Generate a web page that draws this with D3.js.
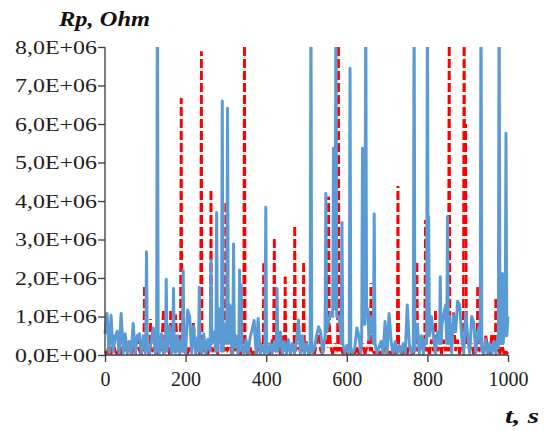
<!DOCTYPE html>
<html>
<head>
<meta charset="utf-8">
<script src="https://cdn.jsdelivr.net/npm/d3@7"></script>
<style>
  body { margin: 0; background: #fff; }
  #chart { width: 544px; height: 431px; }
  .axis path, .axis line { stroke: #3a3a3a; stroke-width: 1.3px; }
  .axis text { font-family: "Liberation Serif", "Times New Roman", serif; fill: #222; }
  .title { font-family: "Liberation Serif", "Times New Roman", serif; font-weight: bold; font-style: italic; fill: #111; }
</style>
</head>
<body>
<div id="chart"></div>
<script>
// [t in s, Rp in MOhm], blue solid series
var blueSeries = [
  [0,0.55],[5,1.08],[10,0.05],[15,1.03],[20,0.08],[25,0.45],[30,0.62],[35,0.04],[40,1.08],[45,0.06],
  [50,0.55],[55,0.04],[60,0.35],[65,0.06],[70,0.82],[75,0.05],[80,0.5],[85,0.55],[90,0.04],[95,0.5],
  [100,0.06],[101,0.1],[103,2.68],[105,0.1],[110,0.05],[115,0.4],[120,0.7],[125,0.04],[128,0.1],[130,9.5],
  [132,0.1],[135,0.06],[140,0.55],[145,0.05],[150,0.1],[152,1.97],[154,0.1],[160,0.75],[165,0.05],[168,0.1],
  [170,1.73],[172,0.1],[175,0.06],[180,0.5],[185,0.04],[190,0.4],[192,0.1],[194,2.2],[196,0.1],[200,0.05],
  [205,1.17],[210,1.0],[215,0.06],[220,0.75],[225,0.04],[230,0.45],[232,0.1],[234,1.76],[236,0.1],[240,0.05],
  [245,0.55],[250,0.04],[255,0.4],[261,0.1],[263,2.47],[265,0.3],[270,0.6],[275,0.1],[277,3.7],[279,0.1],
  [285,1.2],[289,0.1],[291,6.6],[293,0.1],[298,0.8],[302,0.3],[304,6.41],[306,0.3],[310,1.3],[315,0.06],
  [317,0.2],[319,2.88],[321,0.2],[325,0.5],[330,0.05],[332,0.1],[334,2.21],[336,0.3],[338,1.82],[340,0.1],
  [345,0.06],[350,0.4],[355,0.04],[360,0.45],[365,0.65],[370,0.9],[375,0.05],[380,0.95],[385,0.04],[390,0.25],
  [395,0.05],[397,0.1],[399,3.84],[401,0.1],[405,0.04],[410,0.3],[415,0.05],[420,0.35],[425,0.1],[427,1.73],
  [429,0.1],[435,0.6],[440,0.04],[445,0.35],[450,0.04],[455,0.4],[460,0.05],[465,0.3],[470,0.04],[475,0.35],
  [480,0.91],[485,0.05],[490,0.5],[495,0.04],[500,0.3],[505,0.04],[509,0.1],[511,9.5],[513,0.1],[515,0.06],
  [520,0.2],[525,0.5],[530,0.73],[535,0.6],[540,0.05],[546,0.5],[548,4.2],[550,0.6],[555,0.9],[560,1.1],
  [565,1.0],[567,5.37],[569,1.2],[571,1.4],[573,9.5],[575,1.0],[580,1.0],[585,0.6],[586,0.3],[588,3.44],
  [590,0.3],[595,0.06],[600,0.25],[605,0.05],[606,0.1],[608,7.45],[610,0.1],[615,0.06],[620,0.2],[625,0.7],
  [630,0.5],[635,0.05],[637,0.5],[639,5.37],[641,0.8],[645,0.8],[647,9.5],[649,1.0],[652,1.2],[655,0.4],
  [660,1.0],[665,0.5],[666,0.3],[668,3.66],[670,0.3],[675,0.05],[680,0.2],[685,0.35],[690,0.04],[695,0.87],
  [700,0.05],[705,1.08],[710,0.35],[715,0.04],[720,0.35],[725,0.05],[730,0.25],[735,0.04],[740,0.3],[745,0.05],
  [750,1.3],[755,0.3],[760,0.04],[765,0.1],[767,9.5],[769,0.1],[770,0.4],[775,0.8],[780,0.05],[785,0.5],
  [790,0.04],[795,0.4],[798,0.3],[800,9.5],[802,0.5],[803,3.6],[805,0.5],[810,1.0],[815,0.5],[820,0.05],
  [825,0.6],[830,0.3],[832,2.03],[834,0.3],[836,0.8],[840,1.0],[845,1.3],[848,0.3],[850,3.6],[852,0.3],
  [855,1.0],[860,0.06],[865,1.04],[870,0.6],[875,1.4],[880,1.3],[885,0.5],[890,0.05],[895,1.1],[900,0.5],
  [905,0.05],[910,1.0],[915,0.85],[920,0.06],[925,0.6],[930,0.78],[931,0.3],[933,9.5],[935,0.1],[940,0.05],
  [945,0.4],[950,0.04],[955,0.3],[960,0.05],[965,0.35],[970,0.04],[975,0.5],[976,0.2],[978,9.5],[980,0.3],
  [984,0.3],[986,2.12],[988,0.3],[990,0.6],[993,0.5],[995,5.76],[997,0.5],[1000,1.0]
];

// [t in s, Rp in MOhm], red dashed series
var redSeries = [
  [0,0.1],[5,0.02],[10,0.3],[15,0.02],[20,0.52],[25,0.1],[30,0.02],[35,0.2],[40,0.02],[45,0.6],
  [50,0.1],[55,0.3],[60,0.35],[65,0.02],[70,0.2],[75,0.02],[80,0.4],[85,0.1],[90,0.02],[95,0.3],
  [96,0.1],[98,1.77],[100,0.1],[105,0.1],[110,0.02],[113,0.93],[115,0.1],[120,0.1],[125,0.3],[130,0.02],
  [135,0.4],[140,0.1],[145,1.19],[150,0.1],[155,0.3],[160,0.02],[163,1.15],[165,0.1],[170,0.1],[175,1.05],
  [180,0.2],[185,0.02],[187,0.1],[189,6.67],[191,0.1],[195,0.1],[200,0.3],[205,0.02],[210,0.2],[215,0.1],
  [219,0.9],[225,0.1],[230,0.3],[235,0.02],[237,0.1],[239,7.88],[241,0.1],[245,0.1],[250,0.3],[255,0.02],
  [260,0.2],[261,0.1],[263,4.29],[265,0.1],[270,0.1],[275,0.3],[280,0.02],[285,0.9],[290,0.1],[295,0.2],
  [298,0.1],[300,3.94],[302,0.1],[305,0.1],[310,0.4],[315,0.02],[320,0.2],[325,0.1],[330,0.3],[335,0.02],
  [340,0.1],[344,0.1],[346,9.5],[348,0.1],[350,0.1],[355,0.02],[360,0.2],[365,0.02],[370,0.1],[375,0.02],
  [380,0.2],[385,0.1],[390,0.3],[392,0.1],[394,2.38],[396,0.1],[400,0.1],[405,0.3],[410,0.02],[415,0.4],
  [418,0.1],[420,3.09],[422,0.1],[425,0.1],[430,0.3],[435,0.02],[440,0.5],[445,0.1],[447,2.03],[449,0.1],
  [455,0.4],[460,0.02],[465,0.3],[469,0.1],[471,3.38],[473,0.1],[480,0.3],[485,0.02],[490,0.2],[491,0.1],
  [493,2.47],[495,0.1],[500,0.35],[505,0.02],[510,0.1],[515,0.2],[520,0.02],[525,0.3],[530,0.6],[535,0.1],
  [540,0.02],[545,0.3],[550,0.4],[553,0.2],[555,4.11],[557,0.8],[560,0.2],[565,0.02],[570,0.3],[575,0.1],
  [577,0.1],[579,9.5],[581,0.1],[585,0.3],[590,0.02],[595,0.1],[600,0.02],[605,0.2],[610,0.02],[615,0.1],
  [620,0.02],[625,0.2],[630,0.02],[635,0.1],[640,0.3],[645,0.02],[650,0.2],[655,0.4],[658,0.1],[660,1.86],
  [662,0.1],[665,0.1],[670,0.02],[675,0.2],[680,0.02],[685,0.1],[690,0.02],[695,0.4],[700,0.02],[705,0.1],
  [710,0.02],[715,0.2],[720,0.02],[725,0.1],[727,4.39],[729,0.1],[735,0.1],[740,0.02],[745,0.2],[750,0.02],
  [755,0.3],[760,0.1],[765,0.02],[770,0.2],[772,0.1],[774,2.47],[776,0.1],[780,0.1],[785,0.4],[790,0.1],
  [793,0.1],[795,3.5],[797,0.1],[800,0.2],[805,0.02],[810,0.4],[815,0.1],[818,0.1],[820,1.17],[822,0.1],
  [825,0.1],[830,0.3],[835,0.02],[840,0.4],[845,0.1],[850,0.3],[852,0.1],[854,9.5],[856,0.1],[860,0.2],
  [865,1.1],[870,0.1],[875,0.4],[880,0.02],[885,0.3],[889,0.1],[891,9.5],[893,3.0],[895,6.0],[897,0.2],
  [900,0.4],[905,0.1],[910,0.3],[915,0.02],[920,0.4],[923,0.1],[925,1.82],[927,0.1],[930,0.1],[935,0.3],
  [940,0.02],[945,0.5],[950,0.2],[955,0.02],[960,0.6],[965,0.3],[968,0.1],[970,1.47],[972,0.1],[975,0.2],
  [980,0.02],[985,0.3],[990,0.02],[995,0.1],[1000,0.02]
];

var xTicks = [0, 200, 400, 600, 800, 1000];
var yTicks = [0, 1e6, 2e6, 3e6, 4e6, 5e6, 6e6, 7e6, 8e6];

var chart = d3.select("#chart"),
    margin = {top: 47, right: 36, bottom: 76, left: 105},
    width = 544 - margin.left - margin.right,
    height = 431 - margin.top - margin.bottom;

var x = d3.scaleLinear().domain([0, 1000]).range([0, width]),
    y = d3.scaleLinear().domain([0, 8e6]).range([height, 0]);

var svg = chart.append("svg")
    .attr("width", 544)
    .attr("height", 431)
    .append("g")
    .attr("transform", "translate(" + margin.left + "," + margin.top + ")");

svg.append("clipPath")
    .attr("id", "plot-clip")
    .append("rect")
    .attr("x", -2)
    .attr("y", 0)
    .attr("width", width + 4)
    .attr("height", height + 1);

// values are in MOhm, axis is in Ohm
var line = d3.line()
    .x(function (d) { return x(d[0]); })
    .y(function (d) { return y(d[1] * 1e6); });

var lines = svg.append("g").attr("clip-path", "url(#plot-clip)");

// red series drawn segment by segment, each from its upper end, with the
// dash phase tied to the pixel height so up and down strokes of a spike
// share the same gaps (as in the original, where the spikes read as dashed)
lines.append("g")
    .selectAll("path")
    .data(d3.pairs(redSeries))
    .enter().append("path")
    .attr("d", function (p) {
        var a = p[0], b = p[1];
        if (a[1] < b[1]) { var tmp = a; a = b; b = tmp; }
        return line([a, b]);
    })
    .attr("fill", "none")
    .attr("stroke", "#ff0000")
    .attr("stroke-width", 2.6)
    .attr("stroke-dasharray", "9,3")
    .attr("stroke-dashoffset", function (p) {
        return y(Math.max(p[0][1], p[1][1]) * 1e6);
    });

lines.append("path")
    .datum(blueSeries)
    .attr("d", line)
    .attr("fill", "none")
    .attr("stroke", "#5b9bd5")
    .attr("stroke-width", 3)
    .attr("stroke-linejoin", "round");

// axes
var yAxis = svg.append("g")
    .attr("class", "axis")
    .call(d3.axisLeft(y).tickValues(yTicks).tickSize(7).tickSizeOuter(0)
        .tickFormat(function (d) {
            // Excel style: 8,0E+06
            return d3.format(".1e")(d).replace(".", ",").replace("e+", "E+0");
        }));

yAxis.selectAll("text")
    .attr("x", -8)
    .attr("dy", "0.34em")
    .style("font-size", "19px")
    .attr("textLength", 82)
    .attr("lengthAdjust", "spacingAndGlyphs");

var xAxis = svg.append("g")
    .attr("class", "axis")
    .attr("transform", "translate(0," + height + ")")
    .call(d3.axisBottom(x).tickValues(xTicks).tickSize(7).tickSizeOuter(0).tickFormat(d3.format("d")));

xAxis.selectAll("text")
    .attr("y", 31)
    .attr("dy", 0)
    .style("font-size", "20px");

yAxis.select(".domain").attr("d", "M0,0V" + height);
xAxis.select(".domain").attr("d", "M0,0H" + width);

// axis titles
svg.append("text")
    .attr("class", "title")
    .attr("x", 59 - margin.left)
    .attr("y", 26 - margin.top)
    .style("font-size", "20px")
    .attr("textLength", 91)
    .attr("lengthAdjust", "spacingAndGlyphs")
    .text("Rp, Ohm");

svg.append("text")
    .attr("class", "title")
    .attr("x", 505 - margin.left)
    .attr("y", 423 - margin.top)
    .style("font-size", "20px")
    .attr("textLength", 34)
    .attr("lengthAdjust", "spacingAndGlyphs")
    .text("t, s");
</script>
</body>
</html>
